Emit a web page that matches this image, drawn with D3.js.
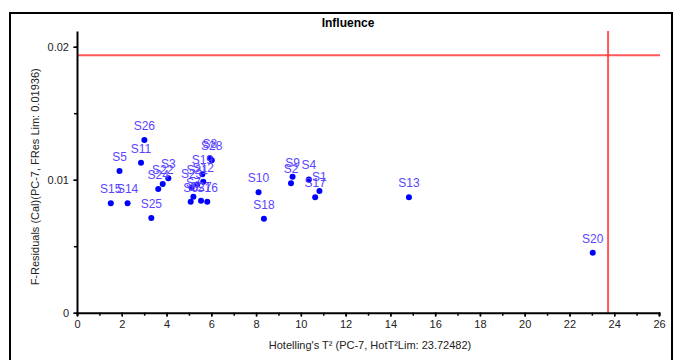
<!DOCTYPE html>
<html><head><meta charset="utf-8">
<script src="https://cdn.jsdelivr.net/npm/d3@7"></script>
<style>body{margin:0;background:#fff}svg{display:block}</style>
</head><body>
<svg id="c" width="675" height="360"></svg>
<script>
const names = ["S1","S2","S3","S4","S5","S6","S7","S8","S9","S10","S11","S12","S13","S14","S15","S16","S17","S18","S19","S20","S21","S22","S23","S24","S25","S26","S27","S28"];
const hotT2 = [10.83,9.56,4.08,10.36,1.90,5.08,5.20,5.94,9.63,8.11,2.86,5.64,14.83,2.26,1.51,5.82,10.64,8.35,5.60,23.04,5.37,3.83,5.12,3.63,3.32,3.01,5.54,6.02];
const fRes  = [0.00915,0.00973,0.01011,0.01002,0.01065,0.00835,0.00872,0.01161,0.01023,0.00905,0.01128,0.00985,0.00868,0.00823,0.00823,0.00835,0.00868,0.00707,0.01041,0.00451,0.00964,0.00968,0.00940,0.00930,0.00712,0.01299,0.00842,0.01146];
const xTicks = [0,2,4,6,8,10,12,14,16,18,20,22,24,26];
const yTicks = [0,0.01,0.02];
const hotLim = 23.72482, fResLim = 0.01936;

const svg = d3.select("#c");
const x = d3.scaleLinear().domain([0,26]).range([77,659]);
const y = d3.scaleLinear().domain([0,0.02118]).range([312.7,31]);

svg.append("rect").attr("x",10).attr("y",13).attr("width",662).attr("height",360)
  .attr("fill","none").attr("stroke","#000").attr("stroke-width",2);

svg.append("text").attr("x",348).attr("y",27).attr("text-anchor","middle")
  .attr("font-family","Liberation Sans, Arial, sans-serif").attr("font-weight","bold")
  .attr("font-size",12).text("Influence");

// limit lines
svg.append("line").attr("x1",x(0)).attr("x2",660).attr("y1",y(fResLim)).attr("y2",y(fResLim))
  .attr("stroke","#ff3030").attr("stroke-opacity",0.8).attr("stroke-width",2);
svg.append("line").attr("x1",x(hotLim)).attr("x2",x(hotLim)).attr("y1",31).attr("y2",y(0))
  .attr("stroke","#ff3030").attr("stroke-opacity",0.8).attr("stroke-width",2);

// axes
const font = "Liberation Sans, Arial, sans-serif";
const xMinor = d3.range(0,27,1);
const gx = svg.append("g").attr("transform",`translate(0,${y(0)})`);
gx.call(d3.axisBottom(x).tickValues(xMinor).tickSize(3).tickFormat(""));
gx.call(g=>g.selectAll(".tick line").attr("stroke-width",1.5));
gx.select(".domain").attr("stroke-width",2);
const gx2 = svg.append("g").attr("transform",`translate(0,${y(0)})`)
  .call(d3.axisBottom(x).tickValues(xTicks).tickSize(4).tickPadding(4).tickFormat(d3.format("d")));
gx2.select(".domain").remove();
gx2.selectAll(".tick line").attr("stroke-width",1.5);
gx2.selectAll("text").attr("font-family",font).attr("font-size",11).attr("fill","#222");

const gy = svg.append("g").attr("transform",`translate(${x(0)},0)`);
gy.call(d3.axisLeft(y).tickValues([0,0.005,0.01,0.015,0.02]).tickSize(3).tickFormat("").tickSizeOuter(0));
gy.selectAll(".tick line").attr("stroke-width",1.5);
gy.select(".domain").attr("stroke-width",2);
const gy2 = svg.append("g").attr("transform",`translate(${x(0)},0)`)
  .call(d3.axisLeft(y).tickValues(yTicks).tickSize(4).tickPadding(4).tickFormat(d=>d===0?"0":d3.format(".2f")(d)));
gy2.select(".domain").remove();
gy2.selectAll("text").attr("font-family",font).attr("font-size",11).attr("fill","#222");

svg.append("text").attr("x",370).attr("y",349).attr("text-anchor","middle")
  .attr("font-family",font).attr("font-size",11).attr("fill","#222")
  .text("Hotelling's T² (PC-7, HotT²Lim: 23.72482)");
svg.append("text").attr("transform",`translate(39,${(y(0)+31)/2 + 5}) rotate(-90)`).attr("text-anchor","middle")
  .attr("font-family",font).attr("font-size",11).attr("fill","#222")
  .text("F-Residuals (Cal)(PC-7, FRes Lim: 0.01936)");

const data = names.map((n,i)=>({n, x:hotT2[i], y:fRes[i]}));
svg.append("g").selectAll("circle").data(data).join("circle")
  .attr("cx",d=>x(d.x)).attr("cy",d=>y(d.y)).attr("r",3).attr("fill","#0000ff");
svg.append("g").selectAll("text").data(data).join("text")
  .attr("x",d=>x(d.x)).attr("y",d=>y(d.y)-10).attr("text-anchor","middle")
  .attr("font-family",font).attr("font-size",12).attr("fill","#5a46ff")
  .text(d=>d.n);
</script>
</body></html>
